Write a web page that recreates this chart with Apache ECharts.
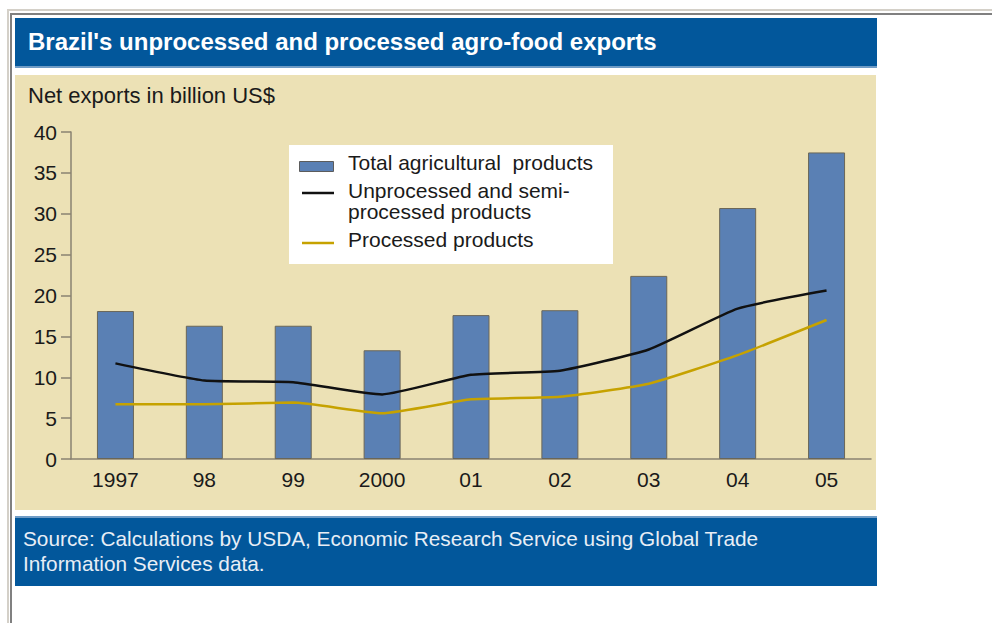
<!DOCTYPE html>
<html>
<head>
<meta charset="utf-8">
<script src="https://cdn.jsdelivr.net/npm/echarts@6/dist/echarts.min.js"></script>
<style>
html,body{margin:0;padding:0;background:#fff;}
#c{width:992px;height:623px;}
</style>
</head>
<body>
<div id="c"></div>
<script>
const years = ['1997','98','99','2000','01','02','03','04','05'];
const totalAg = [18.1, 16.3, 16.3, 13.3, 17.6, 18.2, 22.4, 30.7, 37.5];
const unprocessed = [11.7, 9.6, 9.4, 7.9, 10.3, 10.8, 13.4, 18.4, 20.6];
const processed = [6.7, 6.7, 6.9, 5.6, 7.3, 7.6, 9.2, 12.7, 17.0];
const seriesNames = ['Total agricultural  products', 'Unprocessed and semi-\nprocessed products', 'Processed products'];
const yTicks = {min: 0, max: 40, interval: 5};

const FONT = '"Liberation Sans", Arial, Helvetica, sans-serif';
const BLUE_BG = '#02579b';
const BEIGE = '#ece1b5';
const BAR = '#5a80b4';
const BLACK = '#111111';
const GOLD = '#c6a200';
const AXIS = '#8a8272';

const chart = echarts.init(document.getElementById('c'), null, {renderer: 'svg'});

const option = {
  animation: false,
  backgroundColor: '#ffffff',
  graphic: [
    // frame lines
    {type: 'rect', z: 0, shape: {x: 7, y: 9, width: 985, height: 2}, style: {fill: '#d4d0c8'}, silent: true},
    {type: 'rect', z: 0, shape: {x: 7, y: 9, width: 2, height: 614}, style: {fill: '#d4d0c8'}, silent: true},
    {type: 'rect', z: 0, shape: {x: 10, y: 13, width: 982, height: 2}, style: {fill: '#808080'}, silent: true},
    {type: 'rect', z: 0, shape: {x: 10, y: 13, width: 2, height: 610}, style: {fill: '#808080'}, silent: true},
    // title bar
    {type: 'rect', z: 0, shape: {x: 15, y: 18, width: 862, height: 49}, style: {fill: BLUE_BG}, silent: true},
    {type: 'rect', z: 0, shape: {x: 15, y: 66, width: 862, height: 2}, style: {fill: '#6f9cc6'}, silent: true},
    // beige panel
    {type: 'rect', z: 0, shape: {x: 15, y: 75, width: 861, height: 435}, style: {fill: BEIGE}, silent: true},
    // source box
    {type: 'rect', z: 0, shape: {x: 15, y: 517, width: 862, height: 69}, style: {fill: BLUE_BG}, silent: true},
    {type: 'rect', z: 0, shape: {x: 15, y: 516, width: 862, height: 2}, style: {fill: '#6f9cc6'}, silent: true},
    // texts
    {type: 'text', z: 10, left: 28, top: 29, style: {text: "Brazil's unprocessed and processed agro-food exports", fill: '#ffffff', font: 'bold 24px ' + FONT}},
    {type: 'text', z: 10, left: 28, top: 84, style: {text: 'Net exports in billion US$', fill: '#1a1a1a', font: '22px ' + FONT}},
    {type: 'text', z: 10, left: 23, top: 526, style: {text: 'Source: Calculations by USDA, Economic Research Service using Global Trade\nInformation Services data.', fill: '#e8eef6', font: '20.8px ' + FONT, lineHeight: 25}},
    // legend box
    {type: 'rect', z: 5, shape: {x: 289, y: 145, width: 324, height: 119}, style: {fill: '#ffffff'}, silent: true},
    {type: 'rect', z: 6, shape: {x: 299.5, y: 161.5, width: 34, height: 10}, style: {fill: BAR, stroke: '#5c5c5c', lineWidth: 1}, silent: true},
    {type: 'text', z: 6, left: 348, top: 152, style: {text: seriesNames[0], fill: '#1a1a1a', font: '21px ' + FONT}},
    {type: 'line', z: 6, shape: {x1: 302, y1: 193, x2: 334, y2: 193}, style: {stroke: BLACK, lineWidth: 2.5}, silent: true},
    {type: 'text', z: 6, left: 348, top: 180, style: {text: seriesNames[1], fill: '#1a1a1a', font: '21px ' + FONT, lineHeight: 21}},
    {type: 'line', z: 6, shape: {x1: 302, y1: 243, x2: 334, y2: 243}, style: {stroke: GOLD, lineWidth: 2.5}, silent: true},
    {type: 'text', z: 6, left: 348, top: 229, style: {text: seriesNames[2], fill: '#1a1a1a', font: '21px ' + FONT}}
  ],
  grid: {left: 71, right: 121, top: 132, bottom: 164, containLabel: false},
  xAxis: {
    type: 'category',
    data: years,
    boundaryGap: true,
    axisLine: {lineStyle: {color: AXIS, width: 1.5}},
    axisTick: {show: false},
    axisLabel: {color: '#1a1a1a', fontFamily: FONT, fontSize: 21, margin: 10}
  },
  yAxis: {
    type: 'value',
    min: yTicks.min, max: yTicks.max, interval: yTicks.interval,
    axisLine: {show: true, lineStyle: {color: AXIS, width: 1.5}},
    axisTick: {show: true, length: 10, lineStyle: {color: AXIS, width: 1.5}},
    splitLine: {show: false},
    axisLabel: {color: '#1a1a1a', fontFamily: FONT, fontSize: 21, margin: 14}
  },
  series: [
    {name: seriesNames[0], type: 'bar', data: totalAg, barWidth: 37, z: 2,
     itemStyle: {color: BAR, borderColor: '#6a6658', borderWidth: 1}},
    {name: seriesNames[1], type: 'line', data: unprocessed, symbol: 'none', smooth: 0.15, z: 3,
     lineStyle: {color: BLACK, width: 2.5}},
    {name: seriesNames[2], type: 'line', data: processed, symbol: 'none', smooth: 0.15, z: 3,
     lineStyle: {color: GOLD, width: 2.5}}
  ]
};
chart.setOption(option);
</script>
</body>
</html>
